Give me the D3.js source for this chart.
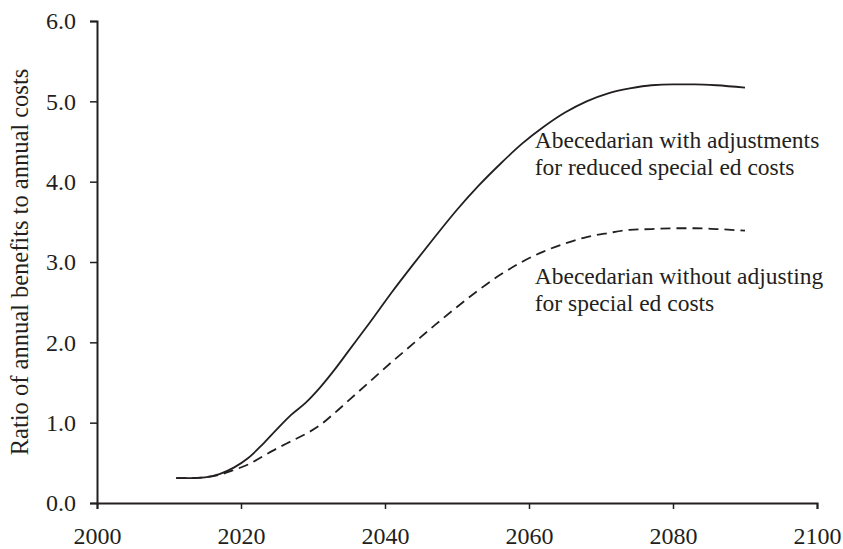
<!DOCTYPE html>
<html>
<head>
<meta charset="utf-8">
<script src="https://cdn.jsdelivr.net/npm/d3@7"></script>
<style>
  body { margin: 0; background: #fff; }
  text { font-family: "Liberation Serif", "Times New Roman", serif; fill: #231f20; }
</style>
</head>
<body>
<div id="chart"></div>
<script>
// data
var years = [2011, 2013, 2015, 2017, 2019, 2021, 2023, 2025, 2027, 2029, 2031, 2033, 2035, 2038, 2041, 2044, 2047, 2050, 2053, 2056, 2059, 2062, 2065, 2068, 2071, 2074, 2077, 2080, 2083, 2086, 2090];
var withAdjust = [0.31, 0.31, 0.32, 0.36, 0.44, 0.56, 0.73, 0.92, 1.10, 1.25, 1.44, 1.66, 1.90, 2.26, 2.63, 2.98, 3.32, 3.65, 3.95, 4.22, 4.47, 4.68, 4.86, 5.00, 5.10, 5.16, 5.20, 5.21, 5.21, 5.20, 5.17];
var withoutAdjust = [0.31, 0.31, 0.32, 0.35, 0.41, 0.48, 0.58, 0.68, 0.77, 0.86, 0.97, 1.12, 1.28, 1.52, 1.76, 1.99, 2.22, 2.44, 2.65, 2.84, 3.00, 3.13, 3.23, 3.31, 3.36, 3.40, 3.41, 3.42, 3.42, 3.41, 3.39];
var xTicks = [2000, 2020, 2040, 2060, 2080, 2100];
var yTicks = [0, 1, 2, 3, 4, 5, 6];
var yTitle = "Ratio of annual benefits to annual costs";
var label1 = ["Abecedarian with adjustments", "for reduced special ed costs"];
var label2 = ["Abecedarian without adjusting", "for special ed costs"];

var svgWidth = 843, svgHeight = 549;
var margin = {top: 21, right: 26, bottom: 46, left: 97};
var width = svgWidth - margin.left - margin.right;
var height = svgHeight - margin.top - margin.bottom;

var svg = d3.select("#chart").append("svg").attr("width", svgWidth).attr("height", svgHeight);
var chartGroup = svg.append("g").attr("transform", `translate(${margin.left},${margin.top})`);

var x = d3.scaleLinear().domain([2000, 2100]).range([0, width]);
var y = d3.scaleLinear().domain([0, 6]).range([height, 0]);

var bottomAxis = d3.axisBottom(x).tickValues(xTicks).tickFormat(d3.format("d")).tickSizeInner(6).tickSizeOuter(6).tickPadding(18);
var leftAxis = d3.axisLeft(y).tickValues(yTicks).tickFormat(d3.format(".1f")).tickSizeInner(7).tickSizeOuter(7).tickPadding(14);

var gx = chartGroup.append("g").attr("transform", `translate(0,${height})`).call(bottomAxis);
var gy = chartGroup.append("g").call(leftAxis);

[gx, gy].forEach(function(g) {
  g.selectAll("path.domain").attr("stroke", "#231f20").attr("stroke-width", 2);
  g.selectAll(".tick line").attr("stroke", "#231f20").attr("stroke-width", 1.5);
  g.selectAll(".tick text").attr("font-family", "Liberation Serif").attr("font-size", 24).attr("fill", "#231f20");
});

var line = d3.line().x(d => x(d[0])).y(d => y(d[1])).curve(d3.curveMonotoneX);

chartGroup.append("path")
  .datum(years.map((yr, i) => [yr, withAdjust[i]]))
  .attr("d", line)
  .attr("fill", "none").attr("stroke", "#231f20").attr("stroke-width", 1.8);

chartGroup.append("path")
  .datum(years.map((yr, i) => [yr, withoutAdjust[i]]))
  .attr("d", line)
  .attr("fill", "none").attr("stroke", "#231f20").attr("stroke-width", 1.8)
  .attr("stroke-dasharray", "10,6");

// curve labels
function addLabel(lines, yr, val) {
  var t = chartGroup.append("text")
    .attr("x", x(yr)).attr("y", y(val))
    .attr("font-size", 23.5);
  lines.forEach(function(s, i) {
    t.append("tspan").attr("x", x(yr)).attr("dy", i == 0 ? 0 : 27).text(s);
  });
}
addLabel(label1, 2060.8, 4.42);
addLabel(label2, 2060.8, 2.73);

// y axis title
chartGroup.append("text")
  .attr("transform", "rotate(-90)")
  .attr("x", 0 - height / 2)
  .attr("y", 0 - margin.left + 28)
  .attr("text-anchor", "middle")
  .attr("font-size", 24.5)
  .text(yTitle);
</script>
</body>
</html>
